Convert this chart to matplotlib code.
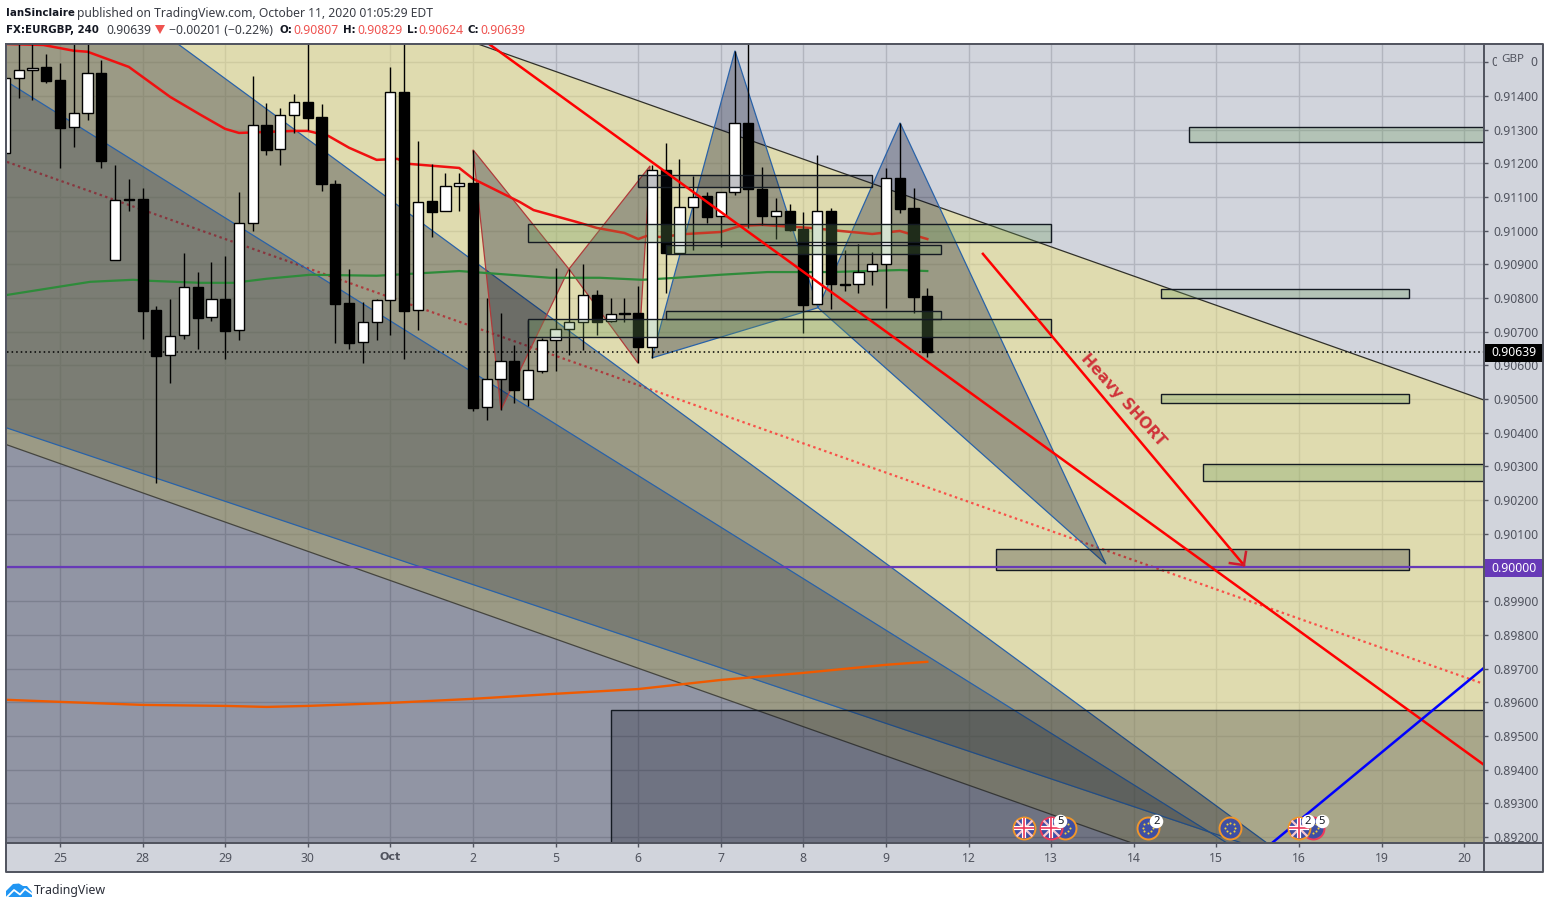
import numpy as np
import matplotlib
matplotlib.use('Agg')
import matplotlib.pyplot as plt
from matplotlib.patches import Rectangle, Polygon

plt.rcParams['font.family'] = ['Noto Sans', 'DejaVu Sans']

# candles, one entry per 4h bar, first bar is partly off the left edge
first_bar = -4
opens = [0.91231, 0.91453, 0.91477, 0.91486, 0.91447, 0.91308, 0.91350, 0.91468, 0.90913, 0.91094,
         0.91094, 0.90765, 0.90631, 0.90690, 0.90833, 0.90744, 0.90797, 0.90705, 0.91023, 0.91314,
         0.91243, 0.91344, 0.91382, 0.91338, 0.91139, 0.90785, 0.90670, 0.90729, 0.90794, 0.91412,
         0.90765, 0.91088, 0.91059, 0.91133, 0.91142, 0.90477, 0.90560, 0.90613, 0.90500, 0.90584,
         0.90675, 0.90708, 0.90729, 0.90809, 0.90732, 0.90756, 0.90756, 0.90655, 0.91180, 0.90934,
         0.91070, 0.91103, 0.91044, 0.91115, 0.91320, 0.91124, 0.91044, 0.91059, 0.91005, 0.90782,
         0.91059, 0.90842, 0.90842, 0.90880, 0.90901, 0.91157, 0.91067, 0.90807]
highs = [0.91460, 0.91580, 0.91580, 0.91525, 0.91498, 0.91580, 0.91580, 0.91507, 0.91195, 0.91154,
         0.91127, 0.90776, 0.90797, 0.90934, 0.90877, 0.90907, 0.90925, 0.91115, 0.91459, 0.91379,
         0.91364, 0.91406, 0.91580, 0.91376, 0.91151, 0.90886, 0.90788, 0.90797, 0.91486, 0.91580,
         0.91266, 0.91198, 0.91171, 0.91171, 0.91240, 0.90800, 0.90756, 0.90661, 0.90735, 0.90681,
         0.90889, 0.90886, 0.90901, 0.90824, 0.90800, 0.90800, 0.90836, 0.91195, 0.91260, 0.91213,
         0.91162, 0.91115, 0.91115, 0.91534, 0.91580, 0.91189, 0.91097, 0.91079, 0.91056, 0.91225,
         0.91067, 0.90943, 0.90961, 0.90937, 0.91186, 0.91320, 0.91127, 0.90829]
lows = [0.91231, 0.91394, 0.91388, 0.91439, 0.91186, 0.91249, 0.91329, 0.91186, 0.90913, 0.91059,
        0.90678, 0.90251, 0.90548, 0.90678, 0.90649, 0.90732, 0.90619, 0.90675, 0.90999, 0.91225,
        0.91195, 0.91290, 0.91299, 0.91118, 0.90667, 0.90649, 0.90607, 0.90675, 0.90690, 0.90619,
        0.90705, 0.90981, 0.91059, 0.91059, 0.90465, 0.90438, 0.90468, 0.90488, 0.90480, 0.90578,
        0.90584, 0.90631, 0.90646, 0.90690, 0.90729, 0.90729, 0.90607, 0.90622, 0.90815, 0.90934,
        0.90943, 0.91023, 0.90952, 0.91106, 0.91008, 0.91017, 0.90975, 0.90999, 0.90696, 0.90782,
        0.90768, 0.90821, 0.90815, 0.90839, 0.90771, 0.91053, 0.90756, 0.90624]
closes = [0.91453, 0.91477, 0.91483, 0.91445, 0.91305, 0.91350, 0.91468, 0.91207, 0.91091, 0.91091,
          0.90762, 0.90628, 0.90687, 0.90833, 0.90741, 0.90797, 0.90702, 0.91023, 0.91314, 0.91240,
          0.91344, 0.91382, 0.91335, 0.91139, 0.90782, 0.90667, 0.90729, 0.90794, 0.91412, 0.90762,
          0.91085, 0.91056, 0.91133, 0.91142, 0.90474, 0.90560, 0.90613, 0.90527, 0.90586, 0.90675,
          0.90708, 0.90729, 0.90809, 0.90729, 0.90753, 0.90753, 0.90655, 0.91180, 0.90934, 0.91070,
          0.91100, 0.91041, 0.91115, 0.91320, 0.91124, 0.91044, 0.91059, 0.91002, 0.90779, 0.91059,
          0.90842, 0.90839, 0.90877, 0.90901, 0.91157, 0.91064, 0.90803, 0.90639]

# moving averages
ema_red_x = [-3.85, -1.2, 1, 2, 5, 8, 10.2, 12, 13, 17, 18, 19.5, 21, 23, 24.5, 25.4, 29, 30, 33.4, 34.4,
             37.5, 39, 41, 42, 42.6, 43.6, 45.5, 48, 49.4, 51, 54.5, 56.7, 59, 61, 63]
ema_red_y = [0.91554, 0.91551, 0.91534, 0.91531, 0.91486, 0.91397, 0.91344, 0.91302, 0.91290, 0.91296,
             0.91296, 0.91281, 0.91246, 0.91210, 0.91213, 0.91198, 0.91186, 0.91154, 0.91085, 0.91061,
             0.91026, 0.91008, 0.90993, 0.90975, 0.90984, 0.90981, 0.90990, 0.90996, 0.91014, 0.91017,
             0.91008, 0.90999, 0.90990, 0.90999, 0.90975]
ema_green_x = [-3.85, 2.2, 5.3, 6.5, 10.2, 12.6, 15, 18.2, 23, 29, 32, 35.6, 39.2, 42.3, 44.8, 48, 51.4, 56.1, 61, 63]
ema_green_y = [0.90809, 0.90848, 0.90854, 0.90851, 0.90845, 0.90845, 0.90857, 0.90869, 0.90866, 0.90880,
               0.90871, 0.90860, 0.90860, 0.90854, 0.90860, 0.90869, 0.90877, 0.90877, 0.90883, 0.90880]
ema_orange_x = [-3.85, 0, 6, 12, 15, 18, 24, 30, 36, 42, 48, 54, 60, 63]
ema_orange_y = [0.89607, 0.89601, 0.89592, 0.89589, 0.89586, 0.89589, 0.89598, 0.89610, 0.89625, 0.89639,
                0.89666, 0.89687, 0.89711, 0.89720]

# axis limits and labels
x_min, x_max = -3.85, 103.44
y_min, y_max = 0.89182, 0.91554
day_bars = [0, 6, 12, 18, 24, 30, 36, 42, 48, 54, 60, 66, 72, 78, 84, 90, 96, 102]
day_labels = ['25', '28', '29', '30', 'Oct', '2', '5', '6', '7', '8', '9', '12', '13', '14', '15', '16', '19', '20']
price_ticks = [0.892, 0.893, 0.894, 0.895, 0.896, 0.897, 0.898, 0.899, 0.900, 0.901, 0.902, 0.903,
               0.904, 0.905, 0.906, 0.907, 0.908, 0.909, 0.910, 0.911, 0.912, 0.913, 0.914, 0.915]
last_price = 0.90639
target_price = 0.90000

# trend fan (bar, price pairs)
fan_top_x, fan_top_y = [30.36, x_max], [y_max, 0.90497]
fan_a_x, fan_a_y = [8.57, 87.67], [y_max, y_min]
fan_b_x, fan_b_y = [x_min, 84.77], [0.91442, y_min]
fan_c_x, fan_c_y = [x_min, 85.86], [0.90414, y_min]
fan_d_x, fan_d_y = [x_min, 77.87], [0.90364, y_min]
fan_cross = (83.75, 0.89209)

# harmonic patterns
blue_x = [43, 49.03, 55.06, 61.02, 75.98]
blue_y = [0.90622, 0.91534, 0.90771, 0.91320, 0.90010]
red_x = [30, 32.03, 36.97, 41.98, 42.86]
red_y = [0.91240, 0.90468, 0.90886, 0.90607, 0.91192]

# zones: left bar, right bar, top price, bottom price
green_zones = [(34, 72, 0.91020, 0.90966), (34, 72, 0.90738, 0.90684), (44, 64, 0.90958, 0.90931),
               (44, 64, 0.90762, 0.90738), (82, x_max, 0.91308, 0.91263), (80, 98, 0.90827, 0.90800),
               (80, 98, 0.90515, 0.90488), (83, x_max, 0.90307, 0.90257)]
gray_zones = [(42, 59, 0.91165, 0.91130), (68, 98, 0.90055, 0.89993), (40, x_max + 1, 0.89577, y_min - 0.001)]

# straight lines
short_line_x, short_line_y = [31.16, x_max], [y_max, 0.89414]
dotted_x, dotted_y = [x_min, x_max], [0.91204, 0.89654]
blue_line_x, blue_line_y = [88.04, x_max], [y_min, 0.89702]
arrow_x, arrow_y = [67.04, 86.0], [0.90931, 0.90007]
arrow_head_x, arrow_head_y = [86.15, 86.0, 84.98], [0.90046, 0.90007, 0.90013]

# calendar events
events_uk_orange = [70, 90]
events_uk_red = [72]
events_eu_orange = [73, 79, 85]
events_eu_red = [91]
badges = [(72.65, '5'), (79.65, '2'), (90.65, '2'), (91.65, '5')]
event_y = 0.89227
badge_y = 0.89247

BG = '#d1d4dc'
GRID = '#b2b5be'
TXT = '#50535e'
FAN_SHADE = (0, 6/255, 36/255)
FAN_DARK = (28/255, 40/255, 66/255)
ZONE_SHADE = (10/255, 14/255, 30/255)
BLUE_EDGE = '#2962a8'

fig = plt.figure(figsize=(15.5, 9.09), dpi=100, facecolor='white')
fig.add_artist(Rectangle((6/1550, 1-872/909), 1537/1550, 829/909, transform=fig.transFigure, facecolor=BG,
                         edgecolor='none', zorder=-1))

ax = fig.add_axes([7/1550, 1-843/909, 1477/1550, 799/909], facecolor='none')
ax.set_xlim(x_min, x_max)
ax.set_ylim(y_min, y_max)
for s in ax.spines.values():
    s.set_visible(False)
ax.set_axisbelow(True)
ax.grid(True, color=GRID, lw=1.0)

ax.yaxis.tick_right()
ax.set_yticks(price_ticks)
# the top label is cut by the GBP tag, its two visible digits are added further down
ax.set_yticklabels(['%.5f' % p if p < 0.915 else '' for p in price_ticks])
ax.set_xticks(day_bars)
ax.set_xticklabels(day_labels)
ax.tick_params(axis='both', color=TXT, length=3, width=1, labelcolor=TXT, labelsize=8.8, pad=3.5)
oct_label = ax.get_xticklabels()[4]
oct_label.set_family('DejaVu Sans')
oct_label.set_fontweight('bold')
oct_label.set_fontsize(8)

# yellow fan and shaded parts of it
ax.add_patch(Polygon([(x_min, y_max), (fan_top_x[0], y_max), (fan_top_x[1], fan_top_y[1]), (x_max, y_min),
                      (fan_d_x[1], y_min), (x_min, fan_d_y[0])],
                     facecolor=(237/255, 226/255, 132/255, 0.5), edgecolor='none', zorder=1))
ax.plot(dotted_x, dotted_y, color='#ff3030', lw=1.6, ls=(0, (1.1, 1.5)), alpha=0.8, zorder=1.5)
ax.add_patch(Polygon([(x_min, y_max), (fan_a_x[0], y_max), (fan_a_x[1], y_min), (x_min, y_min)],
                     facecolor=FAN_SHADE + (0.3,), edgecolor='none', zorder=2))
ax.add_patch(Polygon([(x_min, fan_b_y[0]), fan_cross, (x_min, fan_c_y[0])],
                     facecolor=FAN_DARK + (0.25,), edgecolor='none', zorder=2))
ax.plot(fan_top_x, fan_top_y, color='#30302a', lw=0.9, zorder=2.2)
ax.plot(fan_d_x, fan_d_y, color='#45453f', lw=0.9, zorder=2.2)
for lx, ly in [(fan_a_x, fan_a_y), (fan_b_x, fan_b_y), (fan_c_x, fan_c_y)]:
    ax.plot(lx, ly, color=BLUE_EDGE, lw=0.9, zorder=2.2)

# harmonic triangles
for px, py, col in [(blue_x, blue_y, BLUE_EDGE), (red_x, red_y, '#b03a3a')]:
    for a, b, c in [(0, 1, 2), (2, 3, 4)]:
        ax.add_patch(Polygon([(px[a], py[a]), (px[b], py[b]), (px[c], py[c])],
                             facecolor=FAN_SHADE + (0.3,), edgecolor=col, lw=0.9, zorder=2.5))

# moving averages sit under the candles
ax.plot(ema_red_x, ema_red_y, color='#f01010', lw=1.8, zorder=3)
ax.plot(ema_green_x, ema_green_y, color='#2e8b3a', lw=1.6, zorder=3)
ax.plot(ema_orange_x, ema_orange_y, color='#ef5a00', lw=1.7, zorder=3)

ax.axhline(last_price, color='black', lw=1.1, ls=(0, (1, 2)), zorder=3.2)

# candles
bars = np.arange(first_bar, first_bar + len(opens))
body_low = np.minimum(opens, closes)
body_h = np.abs(np.array(closes) - np.array(opens))
cols = ['white' if c >= o else 'black' for o, c in zip(opens, closes)]
ax.vlines(bars, lows, highs, color='black', lw=1.0, zorder=4)
ax.bar(bars, body_h, bottom=body_low, width=0.74, color=cols, edgecolor='black', lw=1.0, zorder=4.2)

# zones go over the candles
for x0, x1, top, bot in green_zones:
    ax.add_patch(Rectangle((x0, bot), x1-x0, top-bot, facecolor=(107/255, 155/255, 90/255, 0.29),
                           edgecolor='#141a22', lw=1.0, zorder=5))
for x0, x1, top, bot in gray_zones:
    ax.add_patch(Rectangle((x0, bot), x1-x0, top-bot, facecolor=ZONE_SHADE + (0.25,),
                           edgecolor='#141a22', lw=1.0, zorder=5))

ax.axhline(target_price, color='#673ab7', lw=1.6, zorder=5.5)
ax.plot(short_line_x, short_line_y, color='#ff0000', lw=1.8, zorder=6)
ax.plot(blue_line_x, blue_line_y, color='#0000ff', lw=1.8, zorder=6)
ax.plot(arrow_x, arrow_y, color='#ff0000', lw=1.8, zorder=6)
ax.plot(arrow_head_x, arrow_head_y, color='#d01c2c', lw=1.8, zorder=6.1)
ax.text(77.2, 0.90497, 'Heavy SHORT', color='#d0343a', fontsize=11.2, fontweight='bold', family='DejaVu Sans',
        rotation=-48, rotation_mode='anchor', ha='center', va='center', zorder=6)

# calendar icons
star_a = np.linspace(0, 2*np.pi, 8, endpoint=False)
def eu_icon(b, ring):
    ax.scatter([b], [event_y], s=250, facecolor='#3f4fa3', edgecolor=ring, lw=1.4, zorder=7)
    ax.scatter(b + 5/13.767*np.cos(star_a), event_y + 5/33680*np.sin(star_a), s=2.2, color='#f2d23c', lw=0, zorder=7.1)

def uk_icon(b, ring):
    ax.scatter([b], [event_y], s=250, facecolor='#3f4fa3', edgecolor=ring, lw=1.4, zorder=7.3)
    ax.scatter([b], [event_y], s=130, marker='x', color='#f6c6d0', lw=1.6, zorder=7.4)
    ax.scatter([b], [event_y], s=190, marker='+', color='white', lw=3, zorder=7.5)
    ax.scatter([b], [event_y], s=190, marker='+', color='#ee3a5a', lw=1.2, zorder=7.6)

for b in events_eu_orange:
    eu_icon(b, '#f0962a')
for b in events_eu_red:
    eu_icon(b, '#ee3a5a')
for b in events_uk_orange:
    uk_icon(b, '#f0962a')
for b in events_uk_red:
    uk_icon(b, '#ee3a5a')
for b, n in badges:
    ax.scatter([b], [badge_y], s=95, color='white', lw=0, zorder=8)
    ax.text(b, badge_y, n, color='#131722', fontsize=8, ha='center', va='center', zorder=8.1)

# front layer in figure pixels: frame, price tags, header, footer
ov = fig.add_axes([0, 0, 1, 1], facecolor='none')
ov.set_xlim(0, 1550)
ov.set_ylim(909, 0)
ov.axis('off')
ov.plot([6, 1543, 1543, 6, 6], [43.5, 43.5, 872, 872, 43.5], color=TXT, lw=1.4)
ov.plot([1484, 1484], [43.5, 872], color=TXT, lw=1.4)
ov.plot([6, 1543], [843, 843], color=TXT, lw=1.4)

ov.add_patch(Rectangle((1485, 343.5), 58, 18.5, facecolor='black', edgecolor='none'))
ov.text(1513.5, 352.5, '%.5f' % last_price, color='white', fontsize=8.8, ha='center', va='center')
ov.add_patch(Rectangle((1485, 559), 58, 18, facecolor='#673ab7', edgecolor='none'))
ov.text(1513.5, 568, '%.5f' % target_price, color='white', fontsize=8.8, ha='center', va='center')
# digits of 0.91500 on both sides of the GBP tag
ov.text(1491, 62, '0', color=TXT, fontsize=8.8, ha='left', va='center', zorder=1)
ov.add_patch(Rectangle((1497, 50), 31, 20, facecolor=BG, edgecolor='none', zorder=2))
ov.text(1530, 62, '0', color=TXT, fontsize=8.8, ha='left', va='center', zorder=3)
ov.text(1513, 59, 'GBP', color=TXT, fontsize=8.3, ha='center', va='center', zorder=3)

DARK = '#131722'
GREY = '#3a3d45'
RED = '#ef5350'
hdr = dict(fontsize=8.75, va='center', ha='left')
bold = dict(fontsize=7.35, va='center', ha='left', fontweight='bold', family='DejaVu Sans', color=DARK)
ov.text(6, 13, 'IanSinclaire', **bold)
ov.text(77, 13, 'published on TradingView.com, October 11, 2020 01:05:29 EDT', color=GREY, **hdr)
ov.text(6, 30, 'FX:EURGBP, 240', **bold)
ov.text(106, 30, '0.90639', color=GREY, **hdr)
ov.add_patch(Polygon([(155, 25), (165, 25), (160, 34)], facecolor=RED, edgecolor='none'))
ov.text(169, 30, '\u22120.00201 (\u22120.22%)', color=GREY, **hdr)
for x_lab, lab, x_val, val in [(279, 'O:', 293, '0.90807'), (343, 'H:', 357, '0.90829'),
                               (407, 'L:', 418, '0.90624'), (468, 'C:', 480, '0.90639')]:
    ov.text(x_lab, 30, lab, **bold)
    ov.text(x_val, 30, val, color=RED, **hdr)

# TradingView logo
ov.add_patch(Polygon([(6, 897), (6, 891), (13, 884), (19, 883.5), (23, 886), (27, 886), (32, 892), (32, 897)],
                     facecolor='#2196f3', edgecolor='none'))
ov.plot([7, 14, 20, 25, 32], [897, 890, 894.5, 889, 894], color='white', lw=1.3)
ov.text(34, 890.5, 'TradingView', color='#2a2e39', fontsize=8.9, va='center', ha='left')

plt.savefig('out.png', dpi=100, facecolor='white')
